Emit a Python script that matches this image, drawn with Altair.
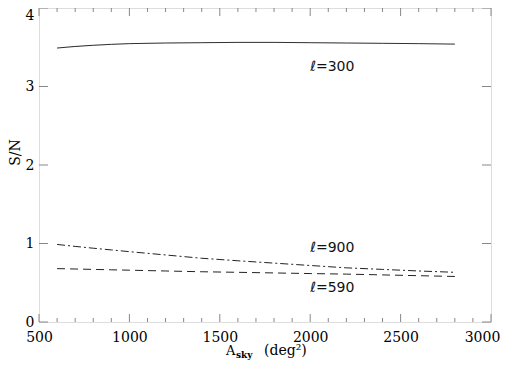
import altair as alt
import pandas as pd

# ---- data ----
a_sky = [600, 700, 800, 900, 1000, 1200, 1400, 1600, 1800, 2000, 2200, 2400, 2600, 2800]
sn_l300 = [3.49, 3.51, 3.525, 3.537, 3.546, 3.554, 3.558, 3.562, 3.562, 3.558, 3.554, 3.55, 3.546, 3.54]
sn_l900 = [0.988, 0.963, 0.94, 0.918, 0.896, 0.854, 0.812, 0.78, 0.75, 0.72, 0.69, 0.67, 0.65, 0.633]
sn_l590 = [0.68, 0.675, 0.67, 0.665, 0.66, 0.65, 0.64, 0.633, 0.625, 0.617, 0.61, 0.60, 0.59, 0.58]

series_names = ["l300", "l900", "l590"]
series_dash = [[1, 0], [8, 3, 2, 3], [8, 5]]

label_text = ["\u2113=300", "\u2113=900", "\u2113=590"]
label_x = [2000, 2000, 2000]
label_y = [3.2, 0.89, 0.38]

x_major = [500, 1000, 1500, 2000, 2500, 3000]
x_minor = [600, 700, 800, 900, 1100, 1200, 1300, 1400, 1600, 1700, 1800, 1900,
           2100, 2200, 2300, 2400, 2600, 2700, 2800, 2900]
y_major = [0, 1, 2, 3, 4]

W, H = 452, 314
SERIF = "DejaVu Serif"
LINE = "#222222"
FRAME = "#888888"

xs = alt.Scale(domain=[500, 3000], nice=False, zero=False)
ys = alt.Scale(domain=[0, 4], nice=False, zero=False)

x_axis = alt.Axis(values=x_major, format="d", ticks=False, domain=False, grid=False,
                  labelFont=SERIF, labelFontSize=14, labelColor="black", labelPadding=8,
                  title=None, labelFlush=False,
                  labelOffset={"condition": {"test": "datum.value == 3000", "value": -9},
                               "value": 0})
y_axis = alt.Axis(values=y_major, format="d", ticks=False, domain=False, grid=False,
                  labelFont=SERIF, labelFontSize=14, labelColor="black", labelPadding=5,
                  labelFlush=False,
                  labelOffset={"condition": {"test": "datum.value == 4", "value": 7},
                               "value": 0},
                  title="S/N", titleFont=SERIF, titleFontSize=14, titleFontWeight="normal",
                  titleColor="black", titleX=-17, titleY=144)

layers = []
for name, vals, dash in zip(series_names, [sn_l300, sn_l900, sn_l590], series_dash):
    df = pd.DataFrame({"A": a_sky, "SN": vals})
    layers.append(
        alt.Chart(df).mark_line(color=LINE, strokeWidth=1, strokeDash=dash).encode(
            x=alt.X("A:Q", scale=xs, axis=x_axis),
            y=alt.Y("SN:Q", scale=ys, axis=y_axis),
        )
    )

lab_df = pd.DataFrame({"A": label_x, "SN": label_y, "t": label_text})
layers.append(
    alt.Chart(lab_df).mark_text(align="left", baseline="alphabetic", font="DejaVu Sans",
                                fontSize=14, color="#111111").encode(
        x=alt.X("A:Q", scale=xs), y=alt.Y("SN:Q", scale=ys), text="t:N")
)

# inward ticks
xmaj = pd.DataFrame({"A": x_major})
xmin = pd.DataFrame({"A": x_minor})
ymaj = pd.DataFrame({"SN": y_major})
tick_style = dict(color=FRAME, strokeWidth=1)
for d, ln in [(xmaj, 8), (xmin, 4)]:
    layers.append(alt.Chart(d).mark_rule(**tick_style).encode(
        x=alt.X("A:Q", scale=xs), y=alt.value(H), y2=alt.value(H - ln)))
    layers.append(alt.Chart(d).mark_rule(**tick_style).encode(
        x=alt.X("A:Q", scale=xs), y=alt.value(0), y2=alt.value(ln)))
layers.append(alt.Chart(ymaj).mark_rule(**tick_style).encode(
    y=alt.Y("SN:Q", scale=ys), x=alt.value(0), x2=alt.value(9)))
layers.append(alt.Chart(ymaj).mark_rule(**tick_style).encode(
    y=alt.Y("SN:Q", scale=ys), x=alt.value(W), x2=alt.value(W - 9)))

# x-axis title with subscript
layers.append(alt.Chart(pd.DataFrame({"t": ["A"]})).mark_text(
    align="left", baseline="alphabetic", font=SERIF, fontSize=13, color="black").encode(
    x=alt.value(187), y=alt.value(347), text="t:N"))
layers.append(alt.Chart(pd.DataFrame({"t": ["sky"]})).mark_text(
    align="left", baseline="alphabetic", font=SERIF, fontSize=9, fontWeight="bold",
    color="black").encode(x=alt.value(197), y=alt.value(350), text="t:N"))
layers.append(alt.Chart(pd.DataFrame({"t": ["(deg\u00b2)"]})).mark_text(
    align="left", baseline="alphabetic", font=SERIF, fontSize=14, color="black").encode(
    x=alt.value(225), y=alt.value(347), text="t:N"))

chart = alt.layer(*layers).properties(
    width=W, height=H, autosize="none",
    padding={"left": 31, "top": 0, "right": 10, "bottom": 38},
).configure_view(stroke=FRAME, strokeWidth=1).configure(background="white")

chart.save("out.html", embed_options={"renderer": "svg", "actions": False})
